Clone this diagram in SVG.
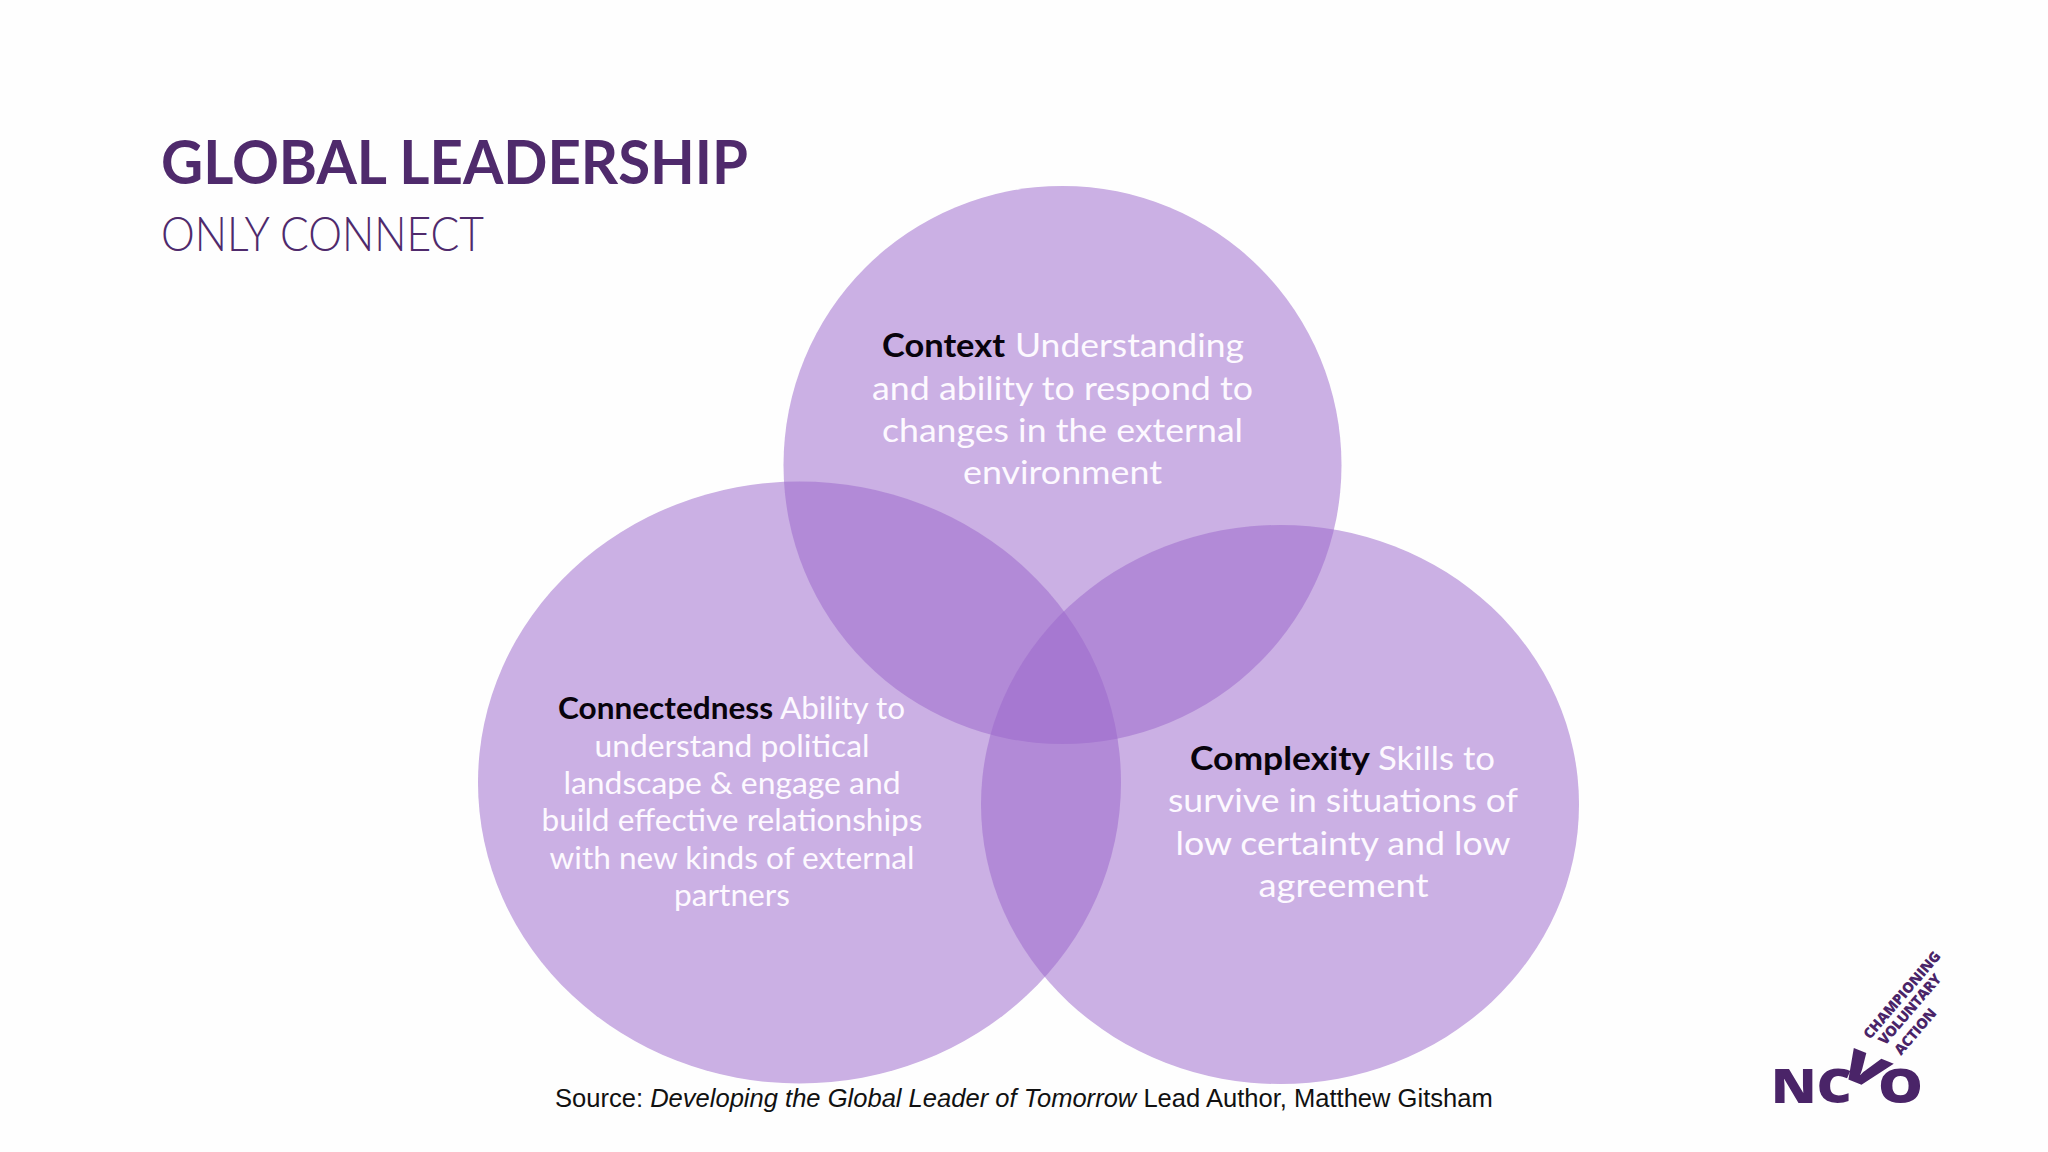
<svg xmlns="http://www.w3.org/2000/svg" width="2048" height="1152" viewBox="0 0 2048 1152">
<style>
.c{fill:#9B68CB;fill-opacity:.52}
.t{font-family:Lato,"Open Sans","Noto Sans",sans-serif;font-size:33px;fill:#fdf9ff;text-anchor:middle}
.m{font-size:30px}
.b{font-family:Lato,"Open Sans",sans-serif;font-weight:700;fill:#08030c;text-anchor:start}
.w{text-anchor:start}
.logo{font-family:"Open Sans","Liberation Sans",sans-serif;font-weight:800;fill:#4a2468}
.s{font-family:"Liberation Sans",Arial,sans-serif;font-size:25.55px;fill:#111}
</style>
<rect width="2048" height="1152" fill="#fefefe"/>
<g id="title">
<text x="161" y="184" font-family="Lato,'Open Sans',sans-serif" font-weight="700" font-size="62" fill="#4f2a6c" textLength="587" lengthAdjust="spacingAndGlyphs">GLOBAL LEADERSHIP</text>
<text x="161" y="251" font-family="Lato,'Open Sans',sans-serif" font-weight="300" font-size="47" fill="#4f2a6c" textLength="323" lengthAdjust="spacingAndGlyphs">ONLY CONNECT</text>
</g>
<g id="node-context">
<circle class="c" cx="1062.5" cy="465" r="279"/>
<text class="t b" x="882" y="357" textLength="123" lengthAdjust="spacingAndGlyphs">Context</text>
<text class="t w" x="1015" y="357" textLength="229" lengthAdjust="spacingAndGlyphs">Understanding</text>
<text class="t" x="1062.500" y="399.500" textLength="381" lengthAdjust="spacingAndGlyphs">and ability to respond to</text>
<text class="t" x="1062.500" y="441.500" textLength="361" lengthAdjust="spacingAndGlyphs">changes in the external</text>
<text class="t" x="1062.500" y="484" textLength="199" lengthAdjust="spacingAndGlyphs">environment</text>
</g>
<g id="node-connectedness">
<ellipse class="c" cx="799.500" cy="782.500" rx="321.500" ry="301"/>
<text class="t m b" x="558" y="718.500" textLength="215" lengthAdjust="spacingAndGlyphs">Connectedness</text>
<text class="t m w" x="780" y="718.500" textLength="125" lengthAdjust="spacingAndGlyphs">Ability to</text>
<text class="t m" x="732" y="756.500" textLength="275" lengthAdjust="spacingAndGlyphs">understand political</text>
<text class="t m" x="732" y="794" textLength="337" lengthAdjust="spacingAndGlyphs">landscape &amp; engage and</text>
<text class="t m" x="732" y="831" textLength="381" lengthAdjust="spacingAndGlyphs">build effective relationships</text>
<text class="t m" x="732" y="869" textLength="365" lengthAdjust="spacingAndGlyphs">with new kinds of external</text>
<text class="t m" x="732" y="906" textLength="116" lengthAdjust="spacingAndGlyphs">partners</text>
</g>
<g id="node-complexity">
<ellipse class="c" cx="1280" cy="804.500" rx="299" ry="279.500"/>
<text class="t b" x="1190" y="770" textLength="180" lengthAdjust="spacingAndGlyphs">Complexity</text>
<text class="t w" x="1378" y="770" textLength="117" lengthAdjust="spacingAndGlyphs">Skills to</text>
<text class="t" x="1343" y="812" textLength="350" lengthAdjust="spacingAndGlyphs">survive in situations of</text>
<text class="t" x="1343" y="855" textLength="335" lengthAdjust="spacingAndGlyphs">low certainty and low</text>
<text class="t" x="1343.500" y="897" textLength="170" lengthAdjust="spacingAndGlyphs">agreement</text>
</g>
<g id="source">
<text class="s" x="555" y="1107">Source: <tspan font-style="italic">Developing the Global Leader of Tomorrow</tspan> Lead Author, Matthew Gitsham</text>
</g>
<g id="logo">
<text class="logo" x="1771" y="1103" font-size="47" textLength="81" lengthAdjust="spacingAndGlyphs">NC</text>
<text class="logo" x="1878" y="1103" font-size="47" textLength="45" lengthAdjust="spacingAndGlyphs">O</text>
<text class="logo" font-size="100" text-anchor="middle" transform="matrix(.576 .227 -.264 .368 1855 1082)">V</text>
<g>
<text class="logo" font-size="14.500" font-weight="700" transform="translate(1870 1040) rotate(-49.400)" textLength="110" lengthAdjust="spacing">CHAMPIONING</text>
<text class="logo" font-size="14.500" font-weight="700" transform="translate(1885 1046) rotate(-49.400)" textLength="88" lengthAdjust="spacing">VOLUNTARY</text>
<text class="logo" font-size="14.500" font-weight="700" transform="translate(1901 1056) rotate(-49.400)" textLength="56" lengthAdjust="spacing">ACTION</text>
</g>
</g>
</svg>
